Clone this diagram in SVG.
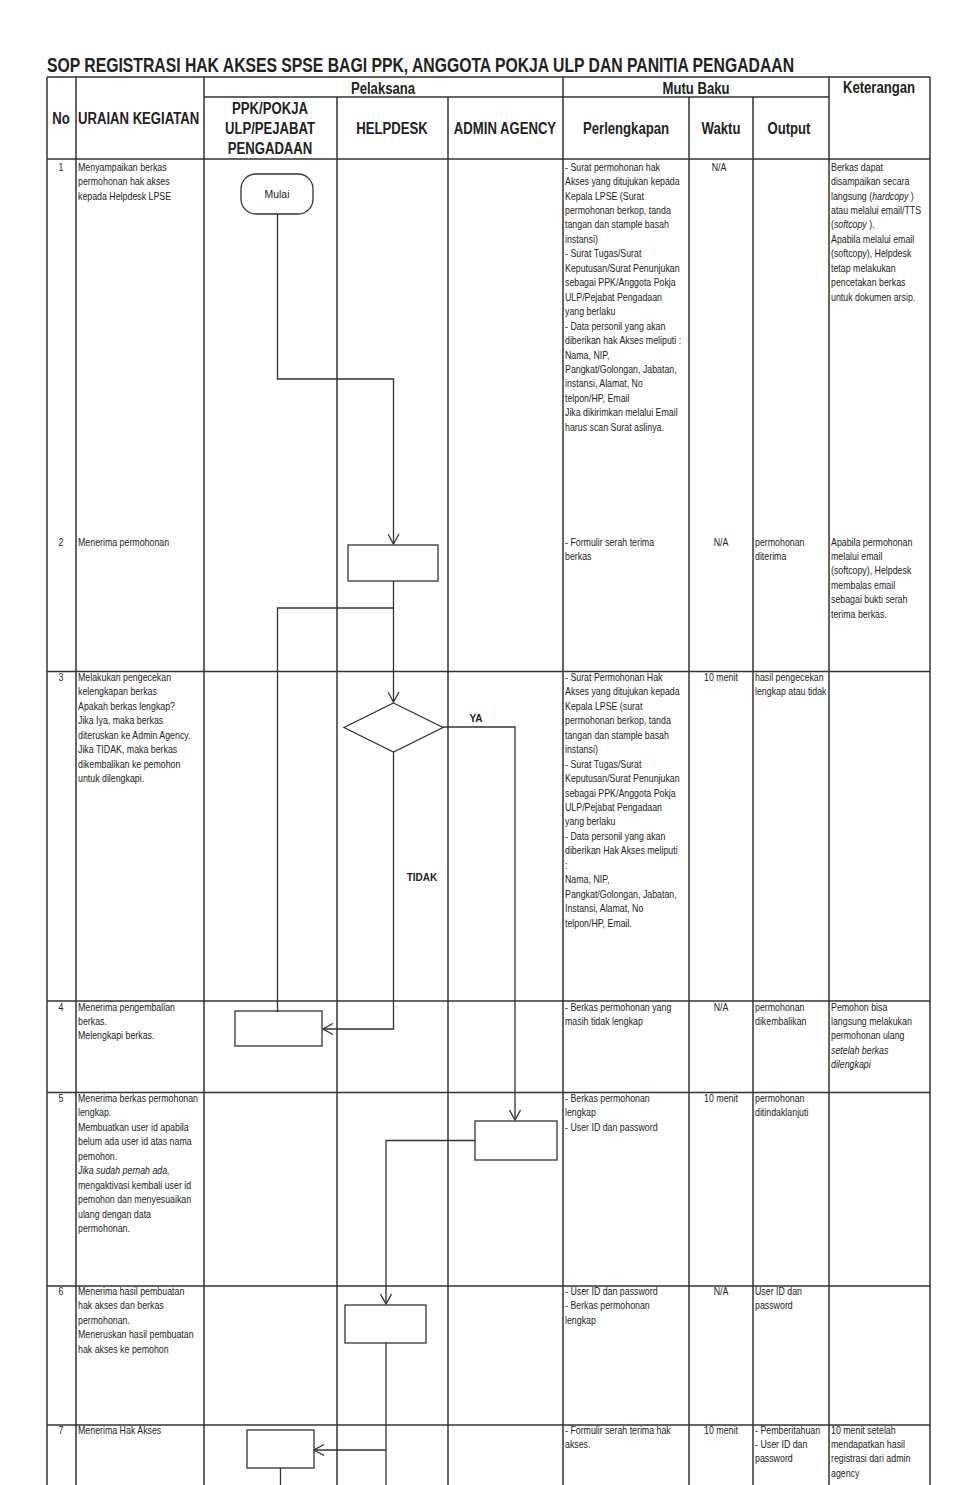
<svg xmlns="http://www.w3.org/2000/svg" width="966" height="1485" viewBox="0 0 966 1485">
<style>
.t{font-family:"Liberation Sans",Arial,sans-serif;font-size:10.5px;fill:#222}
.i{font-style:italic}
.h{font-family:"Liberation Sans",Arial,sans-serif;font-size:16px;font-weight:bold;fill:#222}
.ttl{font-family:"Liberation Sans",Arial,sans-serif;font-size:21px;font-weight:bold;fill:#222}
.lb{font-family:"Liberation Sans",Arial,sans-serif;font-size:10px;font-weight:bold;fill:#222}
.grid line{stroke:#333;stroke-width:1.5}
.shape{fill:none;stroke:#333;stroke-width:1.3}
.conn{fill:none;stroke:#333;stroke-width:1.3}
</style>
<defs>
<marker id="arr" viewBox="0 0 12 12" refX="11" refY="6" markerWidth="12" markerHeight="12" markerUnits="userSpaceOnUse" orient="auto">
<path d="M1,0.5 L11,6 L1,11.5" fill="none" stroke="#333" stroke-width="1.3"/>
</marker>
</defs>
<rect width="966" height="1485" fill="#fff"/>
<text class="ttl" transform="translate(47,72) scale(0.75,1)">SOP REGISTRASI HAK AKSES SPSE BAGI PPK, ANGGOTA POKJA ULP DAN PANITIA PENGADAAN</text>

<g id="table" class="grid">
<line x1="47" y1="77" x2="930" y2="77"/>
<line x1="204" y1="97" x2="829" y2="97"/>
<line x1="47" y1="159" x2="930" y2="159"/>
<line x1="47" y1="671.5" x2="930" y2="671.5"/>
<line x1="47" y1="1001" x2="930" y2="1001"/>
<line x1="47" y1="1092.5" x2="930" y2="1092.5" stroke-width="2"/>
<line x1="47" y1="1286" x2="930" y2="1286"/>
<line x1="47" y1="1425" x2="930" y2="1425" stroke-width="2"/>
<line x1="47" y1="77" x2="47" y2="1485"/>
<line x1="76" y1="77" x2="76" y2="1485"/>
<line x1="204" y1="77" x2="204" y2="1485"/>
<line x1="337" y1="97" x2="337" y2="1485"/>
<line x1="448" y1="97" x2="448" y2="1485"/>
<line x1="563" y1="77" x2="563" y2="1485"/>
<line x1="689" y1="97" x2="689" y2="1485"/>
<line x1="753" y1="97" x2="753" y2="1485"/>
<line x1="829" y1="77" x2="829" y2="1485"/>
<line x1="930" y1="77" x2="930" y2="1485"/>
</g>

<g id="header">
<text class="h" text-anchor="middle" transform="translate(383,93.5) scale(0.82,1)">Pelaksana</text>
<text class="h" text-anchor="middle" transform="translate(696,93.5) scale(0.82,1)">Mutu Baku</text>
<text class="h" text-anchor="middle" transform="translate(879,93) scale(0.82,1)">Keterangan</text>
<text class="h" text-anchor="middle" transform="translate(61,124) scale(0.82,1)">No</text>
<text class="h" transform="translate(78,124) scale(0.82,1)">URAIAN KEGIATAN</text>
<text class="h" text-anchor="middle" transform="translate(270,113.5) scale(0.82,1)"><tspan x="0">PPK/POKJA</tspan><tspan x="0" dy="20.5">ULP/PEJABAT</tspan><tspan x="0" dy="20.5">PENGADAAN</tspan></text>
<text class="h" text-anchor="middle" transform="translate(392,134) scale(0.82,1)">HELPDESK</text>
<text class="h" text-anchor="middle" transform="translate(505,134) scale(0.82,1)">ADMIN AGENCY</text>
<text class="h" text-anchor="middle" transform="translate(626,134) scale(0.82,1)">Perlengkapan</text>
<text class="h" text-anchor="middle" transform="translate(721,134) scale(0.82,1)">Waktu</text>
<text class="h" text-anchor="middle" transform="translate(789,134) scale(0.82,1)">Output</text>
</g>

<g id="row1">
<text class="t" text-anchor="middle" transform="translate(61,170.7) scale(0.84,1)">1</text>
<text class="t" transform="translate(78,170.7) scale(0.84,1)"><tspan x="0">Menyampaikan berkas</tspan><tspan x="0" dy="14.45">permohonan hak akses</tspan><tspan x="0" dy="14.45">kepada Helpdesk LPSE</tspan></text>
<text class="t" transform="translate(565,170.7) scale(0.84,1)"><tspan x="0">- Surat permohonan hak</tspan><tspan x="0" dy="14.45">Akses yang ditujukan kepada</tspan><tspan x="0" dy="14.45">Kepala LPSE (Surat</tspan><tspan x="0" dy="14.45">permohonan berkop, tanda</tspan><tspan x="0" dy="14.45">tangan dan stample basah</tspan><tspan x="0" dy="14.45">instansi)</tspan><tspan x="0" dy="14.45">- Surat Tugas/Surat</tspan><tspan x="0" dy="14.45">Keputusan/Surat Penunjukan</tspan><tspan x="0" dy="14.45">sebagai PPK/Anggota Pokja</tspan><tspan x="0" dy="14.45">ULP/Pejabat Pengadaan</tspan><tspan x="0" dy="14.45">yang berlaku</tspan><tspan x="0" dy="14.45">- Data personil yang akan</tspan><tspan x="0" dy="14.45">diberikan hak Akses meliputi :</tspan><tspan x="0" dy="14.45">Nama, NIP,</tspan><tspan x="0" dy="14.45">Pangkat/Golongan, Jabatan,</tspan><tspan x="0" dy="14.45">instansi, Alamat, No</tspan><tspan x="0" dy="14.45">telpon/HP, Email</tspan><tspan x="0" dy="14.45">Jika dikirimkan melalui Email</tspan><tspan x="0" dy="14.45">harus scan Surat aslinya.</tspan></text>
<text class="t" text-anchor="middle" transform="translate(719,170.7) scale(0.84,1)">N/A</text>
<text class="t" transform="translate(831,170.7) scale(0.84,1)"><tspan x="0">Berkas dapat</tspan><tspan x="0" dy="14.45">disampaikan secara</tspan><tspan x="0" dy="14.45">langsung (<tspan class="i">hardcopy</tspan> )</tspan><tspan x="0" dy="14.45">atau melalui email/TTS</tspan><tspan x="0" dy="14.45">(<tspan class="i">softcopy</tspan> ).</tspan><tspan x="0" dy="14.45">Apabila melalui email</tspan><tspan x="0" dy="14.45">(softcopy), Helpdesk</tspan><tspan x="0" dy="14.45">tetap melakukan</tspan><tspan x="0" dy="14.45">pencetakan berkas</tspan><tspan x="0" dy="14.45">untuk dokumen arsip.</tspan></text>
</g>

<g id="row2">
<text class="t" text-anchor="middle" transform="translate(61,545.5) scale(0.84,1)">2</text>
<text class="t" transform="translate(78,545.5) scale(0.84,1)">Menerima permohonan</text>
<text class="t" transform="translate(565,545.5) scale(0.84,1)"><tspan x="0">- Formulir serah terima</tspan><tspan x="0" dy="14.45">berkas</tspan></text>
<text class="t" text-anchor="middle" transform="translate(721,545.5) scale(0.84,1)">N/A</text>
<text class="t" transform="translate(755,545.5) scale(0.84,1)"><tspan x="0">permohonan</tspan><tspan x="0" dy="14.45">diterima</tspan></text>
<text class="t" transform="translate(831,545.5) scale(0.84,1)"><tspan x="0">Apabila permohonan</tspan><tspan x="0" dy="14.45">melalui email</tspan><tspan x="0" dy="14.45">(softcopy), Helpdesk</tspan><tspan x="0" dy="14.45">membalas email</tspan><tspan x="0" dy="14.45">sebagai bukti serah</tspan><tspan x="0" dy="14.45">terima berkas.</tspan></text>
</g>

<g id="row3">
<text class="t" text-anchor="middle" transform="translate(61,681) scale(0.84,1)">3</text>
<text class="t" transform="translate(78,681) scale(0.84,1)"><tspan x="0">Melakukan pengecekan</tspan><tspan x="0" dy="14.45">kelengkapan berkas</tspan><tspan x="0" dy="14.45">Apakah berkas lengkap?</tspan><tspan x="0" dy="14.45">Jika Iya, maka berkas</tspan><tspan x="0" dy="14.45">diteruskan ke Admin Agency.</tspan><tspan x="0" dy="14.45">Jika TIDAK, maka berkas</tspan><tspan x="0" dy="14.45">dikembalikan ke pemohon</tspan><tspan x="0" dy="14.45">untuk dilengkapi.</tspan></text>
<text class="t" transform="translate(565,681) scale(0.84,1)"><tspan x="0">- Surat Permohonan Hak</tspan><tspan x="0" dy="14.45">Akses yang ditujukan kepada</tspan><tspan x="0" dy="14.45">Kepala LPSE (surat</tspan><tspan x="0" dy="14.45">permohonan berkop, tanda</tspan><tspan x="0" dy="14.45">tangan dan stample basah</tspan><tspan x="0" dy="14.45">instansi)</tspan><tspan x="0" dy="14.45">- Surat Tugas/Surat</tspan><tspan x="0" dy="14.45">Keputusan/Surat Penunjukan</tspan><tspan x="0" dy="14.45">sebagai PPK/Anggota Pokja</tspan><tspan x="0" dy="14.45">ULP/Pejabat Pengadaan</tspan><tspan x="0" dy="14.45">yang berlaku</tspan><tspan x="0" dy="14.45">- Data personil yang akan</tspan><tspan x="0" dy="14.45">diberikan Hak Akses meliputi</tspan><tspan x="0" dy="14.45">:</tspan><tspan x="0" dy="14.45">Nama, NIP,</tspan><tspan x="0" dy="14.45">Pangkat/Golongan, Jabatan,</tspan><tspan x="0" dy="14.45">Instansi, Alamat, No</tspan><tspan x="0" dy="14.45">telpon/HP, Email.</tspan></text>
<text class="t" text-anchor="middle" transform="translate(721,681) scale(0.84,1)">10 menit</text>
<text class="t" transform="translate(755,681) scale(0.84,1)"><tspan x="0">hasil pengecekan</tspan><tspan x="0" dy="14.45">lengkap atau tidak</tspan></text>
</g>

<g id="row4">
<text class="t" text-anchor="middle" transform="translate(61,1010.5) scale(0.84,1)">4</text>
<text class="t" transform="translate(78,1010.5) scale(0.84,1)"><tspan x="0">Menerima pengembalian</tspan><tspan x="0" dy="14.45">berkas.</tspan><tspan x="0" dy="14.45">Melengkapi berkas.</tspan></text>
<text class="t" transform="translate(565,1010.5) scale(0.84,1)"><tspan x="0">- Berkas permohonan yang</tspan><tspan x="0" dy="14.45">masih tidak lengkap</tspan></text>
<text class="t" text-anchor="middle" transform="translate(721,1010.5) scale(0.84,1)">N/A</text>
<text class="t" transform="translate(755,1010.5) scale(0.84,1)"><tspan x="0">permohonan</tspan><tspan x="0" dy="14.45">dikembalikan</tspan></text>
<text class="t" transform="translate(831,1010.5) scale(0.84,1)"><tspan x="0">Pemohon bisa</tspan><tspan x="0" dy="14.45">langsung melakukan</tspan><tspan x="0" dy="14.45">permohonan ulang</tspan><tspan x="0" dy="14.45" class="i">setelah berkas</tspan><tspan x="0" dy="14.45" class="i">dilengkapi</tspan></text>
</g>

<g id="row5">
<text class="t" text-anchor="middle" transform="translate(61,1102) scale(0.84,1)">5</text>
<text class="t" transform="translate(78,1102) scale(0.84,1)"><tspan x="0">Menerima berkas permohonan</tspan><tspan x="0" dy="14.45">lengkap.</tspan><tspan x="0" dy="14.45">Membuatkan user id apabila</tspan><tspan x="0" dy="14.45">belum ada user id atas nama</tspan><tspan x="0" dy="14.45">pemohon.</tspan><tspan x="0" dy="14.45" class="i">Jika sudah pernah ada,</tspan><tspan x="0" dy="14.45">mengaktivasi kembali user id</tspan><tspan x="0" dy="14.45">pemohon dan menyesuaikan</tspan><tspan x="0" dy="14.45">ulang dengan data</tspan><tspan x="0" dy="14.45">permohonan.</tspan></text>
<text class="t" transform="translate(565,1102) scale(0.84,1)"><tspan x="0">- Berkas permohonan</tspan><tspan x="0" dy="14.45">lengkap</tspan><tspan x="0" dy="14.45">- User ID dan password</tspan></text>
<text class="t" text-anchor="middle" transform="translate(721,1102) scale(0.84,1)">10 menit</text>
<text class="t" transform="translate(755,1102) scale(0.84,1)"><tspan x="0">permohonan</tspan><tspan x="0" dy="14.45">ditindaklanjuti</tspan></text>
</g>

<g id="row6">
<text class="t" text-anchor="middle" transform="translate(61,1295) scale(0.84,1)">6</text>
<text class="t" transform="translate(78,1295) scale(0.84,1)"><tspan x="0">Menerima hasil pembuatan</tspan><tspan x="0" dy="14.45">hak akses dan berkas</tspan><tspan x="0" dy="14.45">permohonan.</tspan><tspan x="0" dy="14.45">Meneruskan hasil pembuatan</tspan><tspan x="0" dy="14.45">hak akses ke pemohon</tspan></text>
<text class="t" transform="translate(565,1295) scale(0.84,1)"><tspan x="0">- User ID dan password</tspan><tspan x="0" dy="14.45">- Berkas permohonan</tspan><tspan x="0" dy="14.45">lengkap</tspan></text>
<text class="t" text-anchor="middle" transform="translate(721,1295) scale(0.84,1)">N/A</text>
<text class="t" transform="translate(755,1295) scale(0.84,1)"><tspan x="0">User ID dan</tspan><tspan x="0" dy="14.45">password</tspan></text>
</g>

<g id="row7">
<text class="t" text-anchor="middle" transform="translate(61,1433.5) scale(0.84,1)">7</text>
<text class="t" transform="translate(78,1433.5) scale(0.84,1)">Menerima Hak Akses</text>
<text class="t" transform="translate(565,1433.5) scale(0.84,1)"><tspan x="0">- Formulir serah terima hak</tspan><tspan x="0" dy="14.45">akses.</tspan></text>
<text class="t" text-anchor="middle" transform="translate(721,1433.5) scale(0.84,1)">10 menit</text>
<text class="t" transform="translate(755,1433.5) scale(0.84,1)"><tspan x="0">- Pemberitahuan</tspan><tspan x="0" dy="14.45">- User ID dan</tspan><tspan x="0" dy="14.45">password</tspan></text>
<text class="t" transform="translate(831,1433.5) scale(0.84,1)"><tspan x="0">10 menit setelah</tspan><tspan x="0" dy="14.45">mendapatkan hasil</tspan><tspan x="0" dy="14.45">registrasi dari admin</tspan><tspan x="0" dy="14.45">agency</tspan></text>
</g>

<g id="connectors" class="conn">
<path d="M277.5,214 V379 H393.5 V544" marker-end="url(#arr)"/>
<path d="M393.5,581 V702" marker-end="url(#arr)"/>
<path d="M393.5,608 H277.5 V1012"/>
<path d="M443,727 H515 V1120" marker-end="url(#arr)"/>
<path d="M393.5,752 V1029 H323" marker-end="url(#arr)"/>
<path d="M475,1140.5 H386 V1304" marker-end="url(#arr)"/>
<path d="M386,1343 V1485"/>
<path d="M386,1450 H314" marker-end="url(#arr)"/>
<path d="M280.5,1468 V1485"/>
<text class="lb" x="476" y="722" text-anchor="middle" stroke="none">YA</text>
<text class="lb" x="422" y="881" text-anchor="middle" stroke="none">TIDAK</text>
</g>

<g id="n-mulai">
<rect class="shape" x="241" y="174" width="72" height="40" rx="15"/>
<text class="t" x="277" y="198" text-anchor="middle">Mulai</text>
</g>
<g id="n-terima"><rect class="shape" x="348" y="545" width="90" height="36"/></g>
<g id="n-cek"><polygon class="shape" points="393.5,703 443,727.5 393.5,752 344,727.5"/></g>
<g id="n-lengkapi"><rect class="shape" x="235" y="1011" width="87" height="35"/></g>
<g id="n-buat"><rect class="shape" x="475" y="1121" width="82" height="39"/></g>
<g id="n-teruskan"><rect class="shape" x="345" y="1305" width="81" height="38"/></g>
<g id="n-haksakses"><rect class="shape" x="247" y="1430" width="67" height="38"/></g>
</svg>
